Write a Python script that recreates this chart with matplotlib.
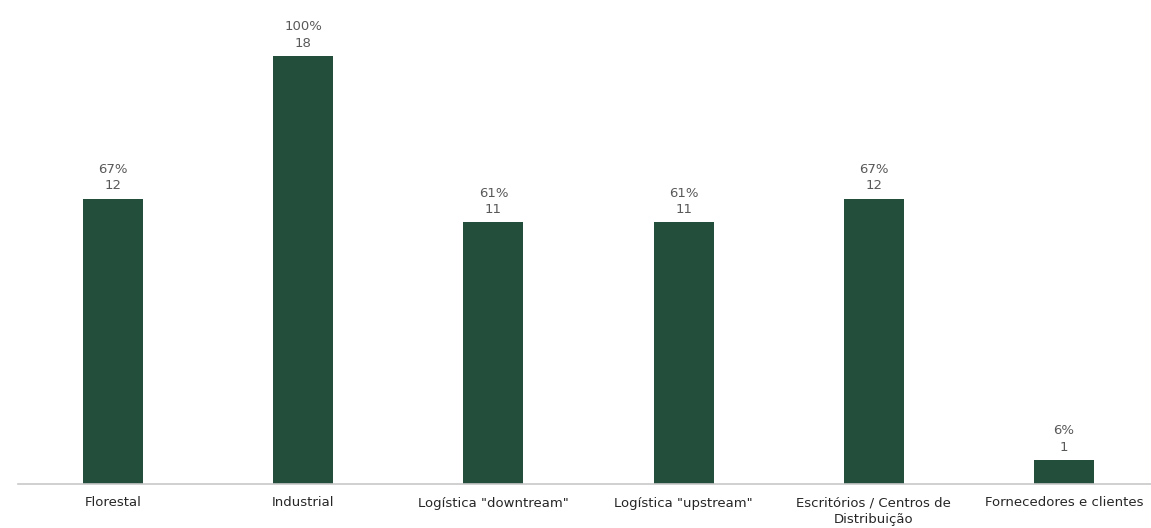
import numpy as np
import matplotlib.pyplot as plt

plt.rcParams['font.family'] = ['DejaVu Sans']

# Locais e número de instalações
categorias = ['Florestal', 'Industrial', 'Logística "downtream"', 'Logística "upstream"',
              'Escritórios / Centros de\nDistribuição', 'Fornecedores e clientes']
contagens = [12, 18, 11, 11, 12, 1]
percentagens = ['67%', '100%', '61%', '61%', '67%', '6%']

COR_BARRA = '#234E3B'

fig = plt.figure(figsize=(11.51, 5.28), dpi=100)
ax = fig.add_axes([18 / 1151, 44 / 528, 1141 / 1151, 428 / 528])

x = np.arange(len(categorias))
barras = ax.bar(x, contagens, width=0.315, color=COR_BARRA, zorder=2)

for b, n, p in zip(barras, contagens, percentagens):
    ax.annotate(f'{p}\n{n}', xy=(b.get_x() + b.get_width() / 2, b.get_height()),
                xytext=(0, 4.5), textcoords='offset points', ha='center', va='bottom',
                fontsize=9.5, color='#595959', linespacing=1.35, annotation_clip=False)

ax.set_xlim(-0.5, len(categorias) - 0.5)
ax.set_ylim(0, 18)
ax.set_xticks(x)
ax.set_xticklabels(categorias, fontsize=9.5, color='#262626', linespacing=1.35)
ax.tick_params(axis='x', length=0, pad=9)
ax.set_yticks([])

for s in ['top', 'right', 'left']:
    ax.spines[s].set_visible(False)
ax.spines['bottom'].set_color('#C8C8C8')
ax.spines['bottom'].set_linewidth(1.2)

fig.savefig('out.png', dpi=100)
